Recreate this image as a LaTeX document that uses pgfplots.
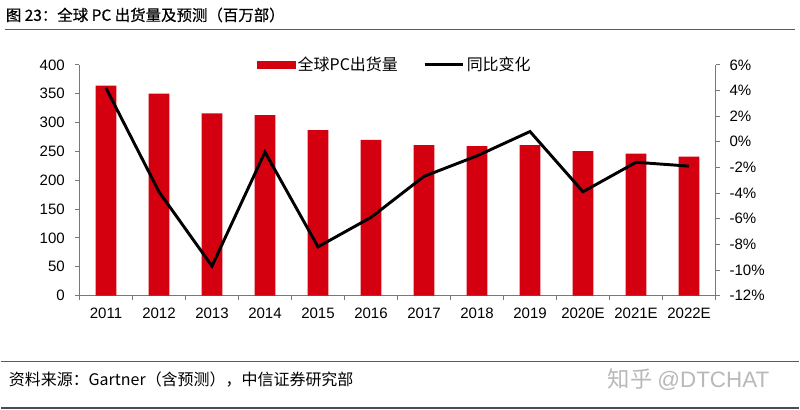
\documentclass[border=0pt]{standalone}
\usepackage{pgfplots}
\pgfplotsset{compat=1.18}
\usepackage{fontspec}
\setmainfont{Liberation Sans}
\newfontfamily\cjk{Noto Sans CJK SC}
\newfontfamily\cjkt[FakeBold=0.5]{Noto Sans CJK SC}
\definecolor{barred}{RGB}{212,0,16}
\definecolor{linered}{RGB}{175,55,65}
\definecolor{axgray}{RGB}{120,120,120}
\begin{document}
\begin{tikzpicture}
\path[fill=white] (0pt,0pt) rectangle (600pt,307.5pt);
% title and rules
\node[anchor=west, inner sep=0pt] at (3.75pt,296.25pt) {\cjkt\fontsize{11.6}{13}\selectfont 图 23：全球 PC 出货量及预测（百万部）};
\draw[linered, line width=0.9pt] (3pt,285.5pt) -- (597pt,285.5pt);
\draw[linered, line width=0.9pt] (0pt,36pt) -- (600pt,36pt);
\node[anchor=west, inner sep=0pt] at (6pt,22.5pt) {\cjk\fontsize{12}{14}\selectfont 资料来源：Gartner（含预测），中信证券研究部};
\node[anchor=east, inner sep=0pt, text=gray!55] at (577.5pt,22.5pt) {\cjk\fontsize{16.8}{18}\selectfont 知乎 {\fontspec{Liberation Sans}@DTCHAT}};
\fill[gray!60!black] (0pt,0pt) rectangle (600pt,2pt);
\begin{axis}[
  at={(59.25pt,85.5pt)}, anchor=south west,
  scale only axis, width=477.75pt, height=173.25pt,
  xmin=-0.5, xmax=11.5, ymin=0, ymax=400,
  ytick={0,50,...,400},
  xtick={-0.5,0.5,...,11.5},
  x tick label as interval,
  xticklabels={2011,2012,2013,2014,2015,2016,2017,2018,2019,2020E,2021E,2022E},
  axis y line*=left, axis x line*=bottom,
  axis line style={axgray, line width=0.6pt, -},
  tick style={axgray, line width=0.6pt},
  tick align=outside, major tick length=3pt,
  /pgf/number format/assume math mode=true,
  tick label style={font=\fontsize{11.3}{13}\selectfont, text=black},
  yticklabel style={xshift=-4.5pt},
  xticklabel style={yshift=-3pt},
]
\addplot[ybar, bar width=15.5pt, fill=barred, draw=none] coordinates {
(0,364) (1,350) (2,316) (3,313) (4,287) (5,270) (6,261) (7,259) (8,261) (9,250.5) (10,246) (11,241)};
\end{axis}
\begin{axis}[
  at={(59.25pt,85.5pt)}, anchor=south west,
  scale only axis, width=477.75pt, height=173.25pt,
  xmin=-0.5, xmax=11.5, ymin=-12, ymax=6,
  ytick={-12,-10,...,6},
  axis y line*=right, axis x line=none,
  axis line style={axgray, line width=0.6pt, -},
  tick style={axgray, line width=0.6pt},
  tick align=outside, major tick length=3pt,
  yticklabel={\pgfmathtruncatemacro\tv{round(\tick)}\tv\%},
  tick label style={font=\fontsize{11.3}{13}\selectfont, text=black},
  yticklabel style={xshift=4pt},
  legend columns=2,
  legend style={draw=none, fill=none, at={(0.496,1)}, anchor=center,
    font=\cjk\fontsize{12}{14}\selectfont, /tikz/every even column/.append style={column sep=17pt}},
]
\addlegendimage{legend image code/.code={\fill[barred] (0pt,-2.5pt) rectangle (28.5pt,2.5pt);}}
\addlegendentry{全球PC出货量}
\addplot[black, line width=2.2pt, line join=miter, mark=none,
  legend image code/.code={\draw[black, line width=2.2pt] (0pt,0pt) -- (28.5pt,0pt);}] coordinates {
(0,4.2) (1,-3.9) (2,-9.7) (3,-0.8) (4,-8.2) (5,-5.9) (6,-2.7) (7,-1.1) (8,0.8) (9,-3.9) (10,-1.6) (11,-1.9)};
\addlegendentry{同比变化}
\end{axis}
\end{tikzpicture}
\end{document}
